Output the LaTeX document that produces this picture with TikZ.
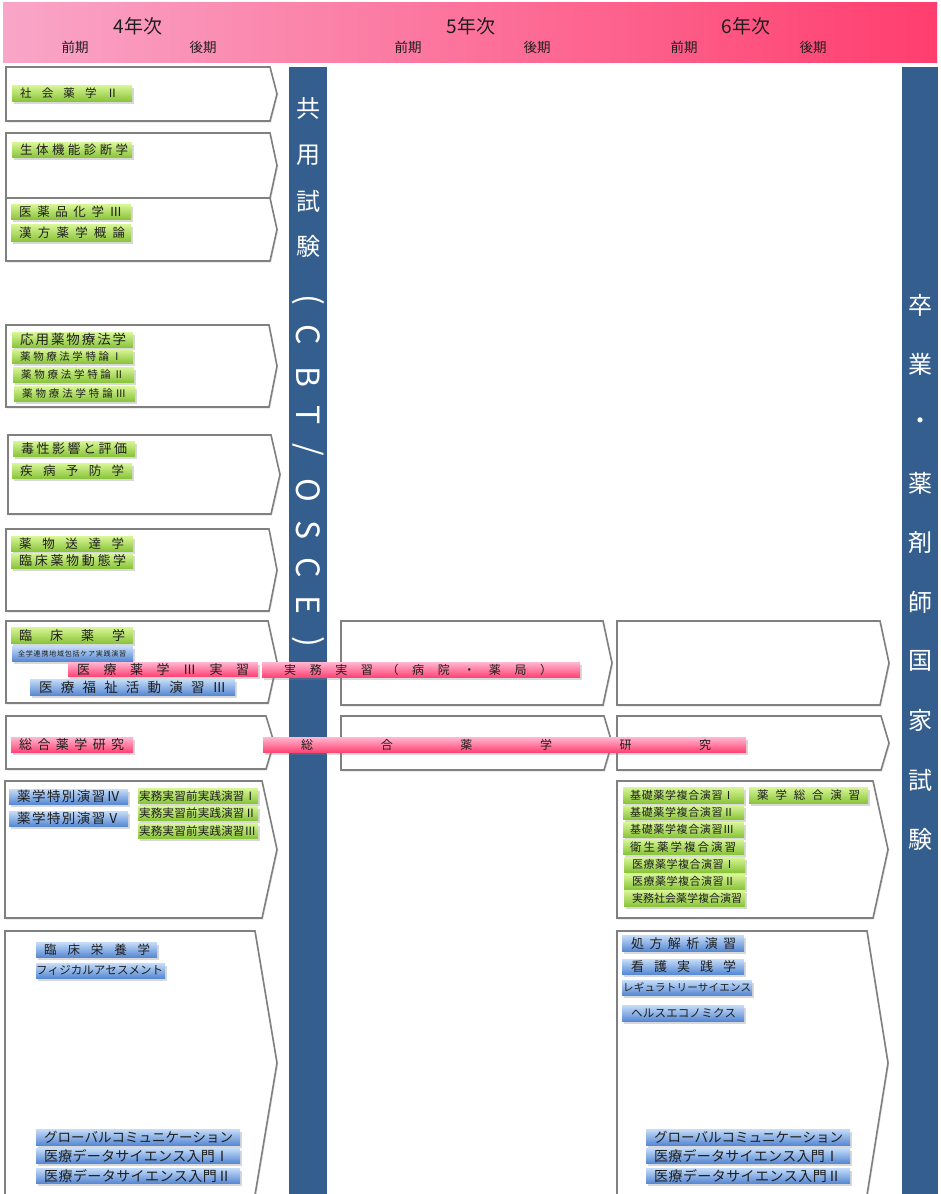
\documentclass[tikz,border=0pt]{standalone}
\usepackage{fontspec}
\setmainfont{Noto Sans CJK JP}
\usetikzlibrary{shadows}
\definecolor{barblue}{RGB}{52,94,142}
\definecolor{boxgray}{RGB}{128,128,128}
\definecolor{hdrL}{RGB}{249,166,200}
\definecolor{hdrM}{RGB}{255,138,178}
\definecolor{hdrR}{RGB}{255,62,110}
\definecolor{gTop}{RGB}{216,246,150}
\definecolor{gBot}{RGB}{138,196,58}
\definecolor{bTop}{RGB}{196,220,248}
\definecolor{bBot}{RGB}{86,136,212}
\definecolor{pTop}{RGB}{255,182,208}
\definecolor{pBot}{RGB}{255,68,118}
\definecolor{txt}{RGB}{30,30,30}
\makeatletter
\newcommand\spreadchars[2]{\makebox[#1][l]{\def\sp@first{x}\@tfor\sp@c:=#2\do{\ifx\sp@first\@empty\hfill\fi\def\sp@first{}\sp@c}}}
\makeatother
\newcommand\fs[1]{\fontsize{#1}{#1}\selectfont}
\newcommand\lab[9][]{%
 \pgfmathsetmacro\lw{#5-#3}%
 \pgfmathsetmacro\lh{#6-#4}%
 \pgfmathsetmacro\lp{#7-#3}%
 \pgfmathsetmacro\lt{#8-#7}%
 \node[lbl,#1,anchor=north west,minimum width=\lw pt,minimum height=\lh pt,text width=\lw pt] (#2) at (#3,#4) {\noindent\hspace*{\lp pt}\spreadchars{\lt pt}{#9}};}
\newcommand\penta[5]{\draw[pent] (#1,#2) -- (#3,#2) -- (#4,{(#2+#5)/2}) -- (#3,#5) -- (#1,#5) -- cycle;}
\tikzset{
 pent/.style={fill=white,draw=boxgray,line width=1.6pt,drop shadow={opacity=0.22,shadow xshift=1.2pt,shadow yshift=-1.5pt}},
 lbl/.style={inner sep=0pt,text=txt,drop shadow={opacity=0.3,shadow xshift=1.5pt,shadow yshift=-2.5pt}},
 gl/.style={top color=gTop,bottom color=gBot},
 bl/.style={top color=bTop,bottom color=bBot},
 pl/.style={top color=pTop,bottom color=pBot},
 bartxt/.style={text=white,font=\fs{24},inner sep=0pt},
 barlat/.style={text=white,font=\fs{32},inner sep=0pt,rotate=-90},
 hdr/.style={text=txt,inner sep=0pt}
}
\begin{document}
\begin{tikzpicture}[x=1pt,y=-1pt]
\clip (0,0) rectangle (940,1194);
\fill[white] (0,0) rectangle (940,1194);
% header
\shade[left color=hdrL,middle color=hdrM,right color=hdrR] (3,2) rectangle (937,62);
\node[hdr,font=\fs{19}] (y4) at (138,26) {4年次};
\node[hdr,font=\fs{19}] (y5) at (471,26) {5年次};
\node[hdr,font=\fs{19}] (y6) at (746,26) {6年次};
\node[hdr,font=\fs{13.5}] (y4a) at (75,47) {前期};
\node[hdr,font=\fs{13.5}] (y4b) at (203,47) {後期};
\node[hdr,font=\fs{13.5}] (y5a) at (408,47) {前期};
\node[hdr,font=\fs{13.5}] (y5b) at (537,47) {後期};
\node[hdr,font=\fs{13.5}] (y6a) at (684,47) {前期};
\node[hdr,font=\fs{13.5}] (y6b) at (813,47) {後期};
% bars
\fill[barblue] (289,67) rectangle (327,1200);
\fill[barblue] (902,67) rectangle (938,1200);
\foreach \c/\yy/\n in {共/108/k1,用/155/k2,試/201/k3,験/246/k4}
  \node[bartxt] (\n) at (308,\yy) {\c};
\node[barlat] (l1) at (308,300) {(};
\node[barlat] (l2) at (308,335) {C};
\node[barlat] (l3) at (308,377) {B};
\node[barlat] (l4) at (308,415) {T};
\node[barlat] (l5) at (308,450) {/};
\node[barlat] (l6) at (308,490) {O};
\node[barlat] (l7) at (308,530) {S};
\node[barlat] (l8) at (308,568) {C};
\node[barlat] (l9) at (308,605) {E};
\node[barlat] (l10) at (308,642) {)};
\foreach \c [count=\i from 0] in {卒,業,・,薬,剤,師,国,家,試,験}
  \node[bartxt] (r\i) at (920,{305+59.4*\i}) {\c};
% boxes left
\penta{6}{67}{270}{277}{121}
\penta{6}{133}{270}{277}{198}
\penta{6}{198}{270}{277}{261}
\penta{6}{325}{269}{277}{407}
\penta{8}{435}{271}{280}{514}
\penta{6}{529}{269}{277}{611}
\penta{6}{621}{268}{277}{703}
\penta{6}{716}{266}{274}{769}
\penta{5}{781}{262}{277}{918}
\penta{5}{931}{255}{277}{1195}
% boxes 5th year
\penta{341}{621}{603}{612}{705}
\penta{341}{716}{604}{612}{770}
% boxes 6th year
\penta{617}{621}{880}{889}{705}
\penta{617}{716}{881}{889}{770}
\penta{617}{781}{873}{888}{918}
\penta{617}{931}{867}{888}{1195}
% labels column 1
\lab[gl,font=\fs{11.5}]{a1}{12}{85}{132}{101}{20}{118}{社会薬学Ⅱ}
\lab[gl,font=\fs{12.5}]{a2}{12}{142}{132}{157}{20}{128}{生体機能診断学}
\lab[gl,font=\fs{12.5}]{a3}{11}{204}{131}{219}{19}{122}{医薬品化学Ⅲ}
\lab[gl,font=\fs{12.5}]{a4}{11}{224}{131}{241}{19}{125}{漢方薬学概論}
\lab[gl,font=\fs{13.5}]{a5}{12}{332}{133}{347}{20}{126}{応用薬物療法学}
\lab[gl,font=\fs{10.5}]{a6}{12}{349}{133}{363}{20}{122}{薬物療法学特論Ⅰ}
\lab[gl,font=\fs{10.5}]{a7}{13}{367}{134}{382}{21}{124}{薬物療法学特論Ⅱ}
\lab[gl,font=\fs{10.5}]{a8}{14}{386}{135}{401}{22}{126}{薬物療法学特論Ⅲ}
\lab[gl,font=\fs{13}]{a9}{13}{441}{135}{456}{21}{127}{毒性影響と評価}
\lab[gl,font=\fs{12.5}]{a10}{12}{463}{132}{478}{20}{124}{疾病予防学}
\lab[gl,font=\fs{12.5}]{a11}{11}{536}{133}{551}{19}{124}{薬物送達学}
\lab[gl,font=\fs{13}]{a12}{11}{553}{133}{568}{19}{126}{臨床薬物動態学}
\lab[gl,font=\fs{13}]{a13}{11}{627}{133}{643}{19}{125}{臨床薬学}
\lab[bl,font=\fs{7}]{a14}{12}{646}{133}{661}{18}{126}{全学連携地域包括ケア実践演習}
\lab[pl,font=\fs{13}]{a15}{68}{662}{258}{676}{77}{249}{医療薬学Ⅲ実習}
\lab[pl,font=\fs{12}]{a16}{262}{662}{580}{677}{284}{552}{実務実習（病院・薬局）}
\lab[bl,font=\fs{13.5}]{a17}{30}{679}{235}{695}{39}{226}{医療福祉活動演習Ⅲ}
\lab[pl,font=\fs{13}]{a18}{11}{737}{133}{752}{19}{124}{総合薬学研究}
\lab[pl,font=\fs{12}]{a19}{263}{737}{746}{752}{301}{711}{総合薬学研究}
\lab[bl,font=\fs{13.5}]{a20}{9}{789}{128}{804}{17}{120}{薬学特別演習Ⅳ}
\lab[bl,font=\fs{13.5}]{a21}{9}{811}{128}{826}{17}{120}{薬学特別演習Ⅴ}
\lab[gl,font=\fs{11.5}]{a22}{138}{788}{258}{803}{139}{256}{実務実習前実践演習Ⅰ}
\lab[gl,font=\fs{11.5}]{a23}{138}{806}{258}{820}{139}{256}{実務実習前実践演習Ⅱ}
\lab[gl,font=\fs{11.5}]{a24}{138}{823}{258}{838}{139}{256}{実務実習前実践演習Ⅲ}
\lab[bl,font=\fs{12.5}]{a25}{36}{942}{157}{957}{44}{150}{臨床栄養学}
\lab[bl,font=\fs{11.5}]{a26}{36}{963}{165}{978}{36}{163}{フィジカルアセスメント}
\lab[bl,font=\fs{13.5}]{a27}{36}{1129}{240}{1145}{44}{232}{グローバルコミュニケーション}
\lab[bl,font=\fs{14}]{a28}{36}{1148}{240}{1163}{44}{229}{医療データサイエンス入門Ⅰ}
\lab[bl,font=\fs{14}]{a29}{36}{1168}{240}{1183}{44}{231}{医療データサイエンス入門Ⅱ}
% labels 6th year
\lab[gl,font=\fs{11}]{b1}{623}{787}{744}{803}{630}{734}{基礎薬学複合演習Ⅰ}
\lab[gl,font=\fs{11}]{b2}{623}{805}{744}{819}{630}{734}{基礎薬学複合演習Ⅱ}
\lab[gl,font=\fs{11}]{b3}{623}{822}{744}{837}{630}{734}{基礎薬学複合演習Ⅲ}
\lab[gl,font=\fs{11.5}]{b4}{623}{839}{744}{854}{630}{736}{衛生薬学複合演習}
\lab[gl,font=\fs{11}]{b5}{624}{857}{745}{872}{632}{735}{医療薬学複合演習Ⅰ}
\lab[gl,font=\fs{11}]{b6}{624}{874}{745}{889}{632}{735}{医療薬学複合演習Ⅱ}
\lab[gl,font=\fs{11}]{b7}{624}{890}{745}{906}{632}{741}{実務社会薬学複合演習}
\lab[gl,font=\fs{11.5}]{b8}{749}{787}{868}{803}{757}{860}{薬学総合演習}
\lab[bl,font=\fs{13}]{b9}{622}{935}{744}{951}{631}{736}{処方解析演習}
\lab[bl,font=\fs{13}]{b10}{622}{959}{744}{974}{631}{736}{看護実践学}
\lab[bl,font=\fs{10.5}]{b11}{622}{980}{752}{995}{623}{751}{レギュラトリーサイエンス}
\lab[bl,font=\fs{11.5}]{b12}{622}{1005}{744}{1021}{631}{736}{ヘルスエコノミクス}
\lab[bl,font=\fs{13.5}]{b13}{646}{1129}{850}{1145}{654}{842}{グローバルコミュニケーション}
\lab[bl,font=\fs{14}]{b14}{646}{1148}{850}{1163}{654}{839}{医療データサイエンス入門Ⅰ}
\lab[bl,font=\fs{14}]{b15}{646}{1168}{850}{1183}{654}{841}{医療データサイエンス入門Ⅱ}
\end{tikzpicture}
\end{document}
